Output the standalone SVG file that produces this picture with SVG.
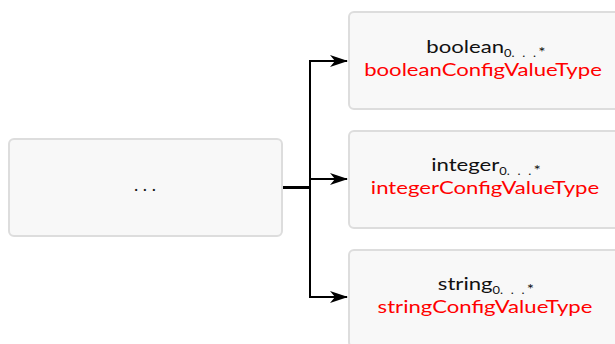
<svg xmlns="http://www.w3.org/2000/svg" width="615" height="344" viewBox="0 0 615 344">
  <style>
    .box { fill: #f8f8f8; stroke: #dddddd; stroke-width: 2; }
    .name { font-family: Lato, "Open Sans", sans-serif; font-size: 18px; fill: #111111; text-anchor: middle; }
    .sub { font-size: 10.5px; }
    .star { font-size: 14px; }
    .dots { font-size: 10.5px; letter-spacing: 1.8px; }
    .type { font-family: Lato, "Open Sans", sans-serif; font-size: 18px; fill: #ff0000; text-anchor: middle; }
    .wire { fill: none; stroke: #000000; stroke-width: 2; }
  </style>
  <defs>
    <marker id="arrow" viewBox="0 0 18 12" refX="17" refY="6" markerWidth="18" markerHeight="12" markerUnits="userSpaceOnUse" orient="auto">
      <path d="M0,0 L18,6 L0,12 L5,6 Z" fill="#000000"/>
    </marker>
  </defs>

  <!-- parent element -->
  <g id="parent">
    <rect class="box" x="9" y="139" width="273" height="97" rx="5"/>
    <text class="name" x="145" y="191">. . .</text>
  </g>

  <!-- child elements (labels widened to the sans face used by the schema) -->
  <g id="boolean">
    <rect class="box" x="349" y="12" width="273" height="97" rx="5"/>
    <text class="name" transform="translate(486,53) scale(1.23,1)">boolean<tspan class="sub" dy="3.5">0</tspan><tspan class="dots">. . .</tspan><tspan class="star">*</tspan></text>
    <text class="type" transform="translate(483,76) scale(1.23,1)">booleanConfigValueType</text>
  </g>
  <g id="integer">
    <rect class="box" x="349" y="131" width="273" height="97" rx="5"/>
    <text class="name" transform="translate(486,171) scale(1.23,1)">integer<tspan class="sub" dy="3.5">0</tspan><tspan class="dots">. . .</tspan><tspan class="star">*</tspan></text>
    <text class="type" transform="translate(485,194) scale(1.23,1)">integerConfigValueType</text>
  </g>
  <g id="string">
    <rect class="box" x="349" y="250" width="273" height="97" rx="5"/>
    <text class="name" transform="translate(486,290) scale(1.23,1)">string<tspan class="sub" dy="3.5">0</tspan><tspan class="dots">. . .</tspan><tspan class="star">*</tspan></text>
    <text class="type" transform="translate(485,313) scale(1.23,1)">stringConfigValueType</text>
  </g>

  <!-- connectors -->
  <g id="connectors">
    <line x1="283" y1="187.5" x2="311" y2="187.5" stroke="#000000" stroke-width="3"/>
    <line class="wire" x1="310" y1="60" x2="310" y2="298"/>
    <path class="wire" d="M310,61 H347" marker-end="url(#arrow)"/>
    <path class="wire" d="M310,179 H347" marker-end="url(#arrow)"/>
    <path class="wire" d="M310,297 H347" marker-end="url(#arrow)"/>
  </g>
</svg>
